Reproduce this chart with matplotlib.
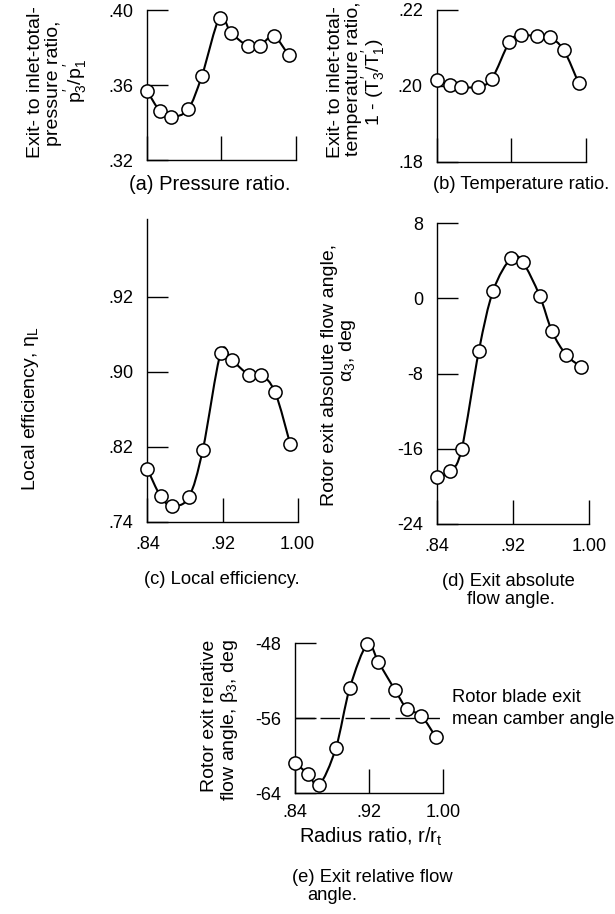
import numpy as np
import matplotlib
matplotlib.use('Agg')
import matplotlib.pyplot as plt
from matplotlib.path import Path
from matplotlib.patches import PathPatch

FONT = 'Liberation Sans'
plt.rcParams['font.family'] = [FONT, 'DejaVu Sans']
plt.rcParams['mathtext.fontset'] = 'custom'
plt.rcParams['mathtext.rm'] = FONT
plt.rcParams['mathtext.it'] = FONT

TICK_FS = 13
CAP_FS = 13.2
LABEL_FS = 14

# radial stations, r/r_t
radius = [0.840, 0.854, 0.866, 0.884, 0.899, 0.918, 0.930, 0.948, 0.961, 0.976, 0.992]

pressure_ratio = [0.357, 0.346, 0.343, 0.347, 0.365, 0.396, 0.388, 0.381, 0.381, 0.386, 0.376]
temp_ratio = [0.2015, 0.2002, 0.1996, 0.1998, 0.2018, 0.2116, 0.2133, 0.2131, 0.2128, 0.2095, 0.2008]
efficiency = [0.796, 0.767, 0.757, 0.766, 0.817, 0.920, 0.912, 0.897, 0.897, 0.878, 0.823]
abs_angle = [-19.0, -18.4, -16.0, -5.6, 0.8, 4.3, 3.9, 0.3, -3.5, -6.0, -7.3]
rel_angle = [-60.8, -61.9, -63.1, -59.2, -52.8, -48.1, -50.0, -53.0, -55.0, -55.7, -58.0]
camber_angle = -56

x_ticks = [0.84, 0.92, 1.00]
x_ticklabels = ['.84', '.92', '1.00']


def faired_curve(x, y):
    # smooth line through the points, as in the hand-faired original
    pts = np.column_stack([x, y])
    ext = np.vstack([pts[0], pts, pts[-1]])
    verts = [pts[0]]
    codes = [Path.MOVETO]
    for i in range(len(pts) - 1):
        p0, p1, p2, p3 = ext[i], ext[i + 1], ext[i + 2], ext[i + 3]
        verts += [p1 + (p2 - p0) / 6, p2 - (p3 - p1) / 6, p2]
        codes += [Path.CURVE4] * 3
    return Path(verts, codes)


def setup(ax, x, y, ylim, yticks, yticklabels, show_x=False):
    ax.add_patch(PathPatch(faired_curve(x, y), fc='none', ec='black', lw=1.5, zorder=2))
    ax.plot(x, y, 'o', mfc='white', mec='black', ms=9.5, mew=1.1, clip_on=False, zorder=3)
    ax.set_xlim(0.84, 1.00)
    ax.set_ylim(*ylim)
    ax.spines['top'].set_visible(False)
    ax.spines['right'].set_visible(False)
    for s in ['left', 'bottom']:
        ax.spines[s].set_linewidth(1.0)
    ax.set_xticks(x_ticks)
    ax.set_xticklabels(x_ticklabels if show_x else [])
    ax.set_yticks(yticks)
    ax.set_yticklabels(yticklabels)
    ax.tick_params(axis='x', direction='in', length=17, width=1.0, pad=10, labelsize=TICK_FS)
    ax.tick_params(axis='y', direction='in', length=15, width=1.0, pad=10, labelsize=TICK_FS)
    ax.set_facecolor('none')


fig = plt.figure(figsize=(6.15, 9.14), dpi=100)

ax_a = fig.add_axes([0.239, 0.8249, 0.2423, 0.1641])
setup(ax_a, radius, pressure_ratio, (0.32, 0.40), [0.32, 0.36, 0.40], ['.32', '.36', '.40'])

ax_b = fig.add_axes([0.710, 0.8231, 0.2428, 0.166])
setup(ax_b, radius, temp_ratio, (0.18, 0.22), [0.18, 0.20, 0.22], ['.18', '.20', '.22'])

ax_c = fig.add_axes([0.2398, 0.4292, 0.2442, 0.3309])
setup(ax_c, radius, efficiency, (0.74, 1.0626), [0.74, 0.82, 0.90, 0.98],
      ['.74', '.82', '.90', '.92'], show_x=True)

ax_d = fig.add_axes([0.7106, 0.4267, 0.2472, 0.329])
setup(ax_d, radius, abs_angle, (-24, 8), [-24, -16, -8, 0, 8],
      ['-24', '-16', '-8', '0', '8'], show_x=True)

ax_e = fig.add_axes([0.4797, 0.1320, 0.2411, 0.1641])
ax_e.hlines(camber_angle, 0.84, 1.00, colors='black', lw=1.0, linestyles=(0, (14, 4)), zorder=1)
setup(ax_e, radius, rel_angle, (-64, -48), [-64, -56, -48], ['-64', '-56', '-48'], show_x=True)
ax_e.tick_params(axis='x', pad=8)


def ftext(x, y, s, **kw):
    # place text in pixel coordinates measured from the top left
    kw.setdefault('fontsize', CAP_FS)
    fig.text(x / 615, 1 - y / 914, s, **kw)


def vlabel(x, y, s):
    ftext(x, y, s, rotation=90, ha='center', va='center', fontsize=LABEL_FS)


# y-axis titles
vlabel(36, 82, 'Exit- to inlet-total-')
vlabel(54, 83, 'pressure ratio,')
vlabel(76, 81, r'$p_3^{\prime}/p_1^{\prime}$')

vlabel(336, 82, 'Exit- to inlet-total-')
vlabel(353, 79, 'temperature ratio,')
vlabel(374, 82, r'1 - $(T_3^{\prime}/T_1^{\prime})$')

vlabel(31, 409, r'Local efficiency, $\eta_L$')

vlabel(329, 375, 'Rotor exit absolute flow angle,')
vlabel(348, 350, r'$\alpha_3$, deg')

vlabel(209, 716, 'Rotor exit relative')
vlabel(230, 720, r'flow angle, $\beta_3$, deg')

# captions
ftext(210, 184, '(a) Pressure ratio.', ha='center', va='center', fontsize=14.5)
ftext(521, 184, '(b) Temperature ratio.', ha='center', va='center')
ftext(222, 579, '(c) Local efficiency.', ha='center', va='center')
ftext(442, 582, '(d) Exit absolute', ha='left', va='center')
ftext(467, 600, 'flow angle.', ha='left', va='center')
ftext(371, 837, r'Radius ratio, $r/r_t$', ha='center', va='center', fontsize=14.5)
ftext(292, 877, '(e) Exit relative flow', ha='left', va='center')
ftext(307, 896, 'angle.', ha='left', va='center')

ftext(452, 697, 'Rotor blade exit', ha='left', va='center')
ftext(452, 720, 'mean camber angle', ha='left', va='center')

fig.savefig('out.png', dpi=100)
